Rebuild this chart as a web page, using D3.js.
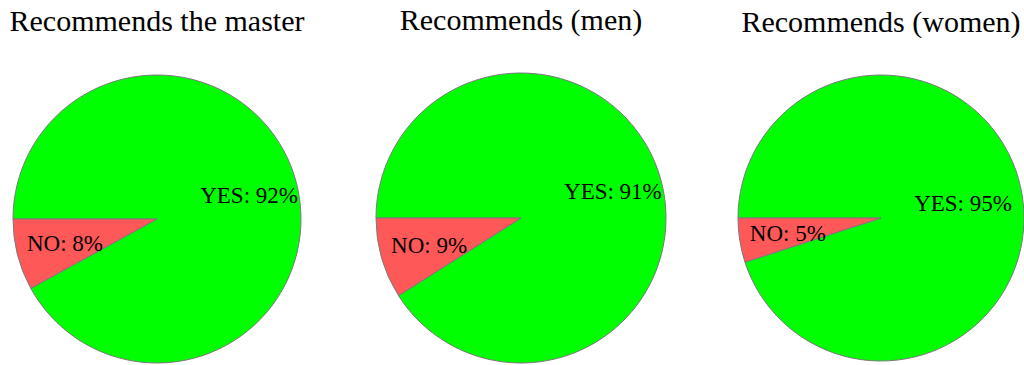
<!DOCTYPE html>
<html>
<head>
<meta charset="utf-8">
<script src="https://cdn.jsdelivr.net/npm/d3@7"></script>
<style>
  html, body { margin: 0; padding: 0; background: #fff; }
  svg { display: block; }
</style>
</head>
<body>
<svg id="chart" width="1024" height="365"></svg>
<script>
// ---- data ----
const titles = ["Recommends the master", "Recommends (men)", "Recommends (women)"];
const categories = ["YES", "NO"];
const yesValues = [92, 91, 95];
const noValues = [8, 9, 5];

// ---- layout ----
const W = 1024, H = 365;
const centersX = [157, 521, 881];
const centersY = [219, 218, 218];
const radii = [144, 145, 143];
const titleBaselines = [31, 30, 32];

const color = d3.scaleOrdinal().domain(categories).range(["#00ff00", "#ff5858"]);

const svg = d3.select("#chart");

const pie = d3.pie()
  .sort(null)
  .value(d => d.value)
  .startAngle(-Math.PI / 2)
  .endAngle(-Math.PI / 2 + 2 * Math.PI);

titles.forEach((title, i) => {
  const data = [
    { cat: categories[0], value: yesValues[i] },
    { cat: categories[1], value: noValues[i] }
  ];
  const r = radii[i];
  const g = svg.append("g").attr("transform", `translate(${centersX[i]},${centersY[i]})`);
  const arc = d3.arc().innerRadius(0).outerRadius(r);
  const arcs = pie(data);

  g.selectAll("path")
    .data(arcs)
    .join("path")
    .attr("d", arc)
    .attr("fill", d => color(d.data.cat))
    .attr("stroke", "#7a7a7a")
    .attr("stroke-width", 1);

  const labelArc = d3.arc().innerRadius(r * 0.66).outerRadius(r * 0.66);
  g.selectAll("text")
    .data(arcs)
    .join("text")
    .attr("transform", d => {
      let [x, y] = labelArc.centroid(d);
      // keep labels inside the page
      const maxX = W - 11 - centersX[i] - 50;
      if (x > maxX) x = maxX;
      return `translate(${x},${y})`;
    })
    .attr("text-anchor", "middle")
    .attr("dy", "0.35em")
    .attr("font-family", "'Liberation Serif', 'Times New Roman', serif")
    .attr("font-size", 23)
    .attr("fill", "#000")
    .text(d => `${d.data.cat}: ${d.data.value}%`);

  svg.append("text")
    .attr("x", centersX[i])
    .attr("y", titleBaselines[i])
    .attr("text-anchor", "middle")
    .attr("font-family", "'Liberation Serif', 'Times New Roman', serif")
    .attr("font-size", 30)
    .attr("fill", "#000")
    .text(title);
});
</script>
</body>
</html>
